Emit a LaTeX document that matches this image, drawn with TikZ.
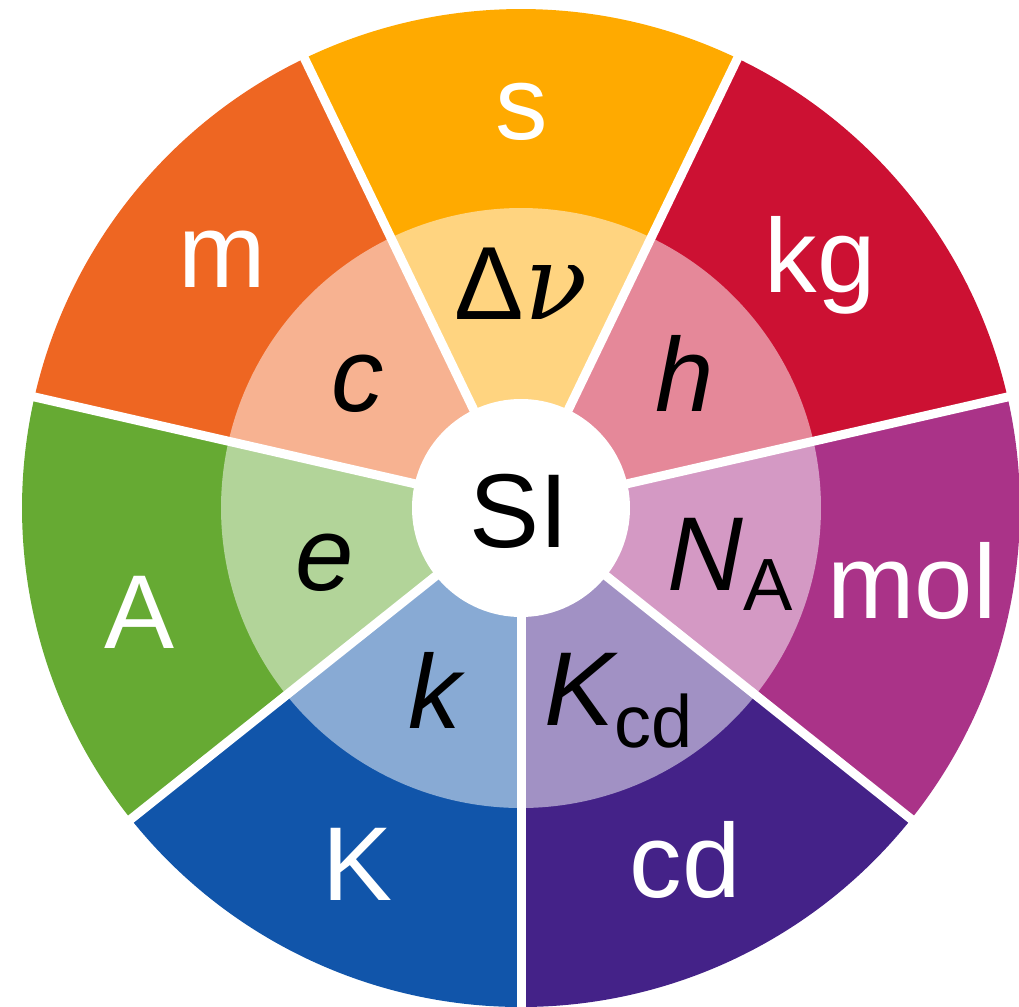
\documentclass[tikz,border=0pt]{standalone}
\usepackage{fontspec}
\setmainfont{Liberation Sans}
\newfontfamily\nufont{DejaVu Serif}
\usepackage{tikz}
\usetikzlibrary{calc}
% sector colours (the light ring is mixed with white)
\definecolor{colcd}{HTML}{442288}
\definecolor{colmol}{HTML}{AA3388}
\definecolor{colkg}{HTML}{CC1133}
\definecolor{cols}{HTML}{FFAA00}
\definecolor{colm}{HTML}{EE6622}
\definecolor{colA}{HTML}{66AA33}
\definecolor{colK}{HTML}{1155AA}
\tikzset{
	unit/.style={text=white, font=\fontsize{105}{105}\selectfont, anchor=base, inner sep=0pt},
	const/.style={text=black, font=\fontsize{105}{105}\selectfont\itshape, anchor=base, inner sep=0pt},
	gap/.style={draw=white, line width=9pt}
}
\newcommand{\sub}[2]{\raisebox{-#1pt}{\fontsize{74}{74}\selectfont\upshape #2}}

\begin{document}
\begin{tikzpicture}[x=1pt,y=1pt]
	\useasboundingbox (-521,-498) rectangle (498,508);
	\clip (-521,-498) rectangle (498,508);
	% Sectors, dark outside and light inside
	\foreach \u [count=\i from 0] in {cd,mol,kg,s,m,A,K} {
		\pgfmathsetmacro\a{-90+\i*360/7}
		\pgfmathsetmacro\b{-90+(\i+1)*360/7}
		\fill[col\u] (0,0) -- (\a:499) arc[start angle=\a, end angle=\b, radius=499] -- cycle;
		\fill[col\u!50!white] (0,0) -- (\a:300) arc[start angle=\a, end angle=\b, radius=300] -- cycle;
	}
	% White gaps
	\foreach \i in {0,...,6}
	\draw[gap] (0,0) -- ({-90+\i*360/7}:520);
	\fill[white] (0,0) circle[radius=109];
	% Units
	\node[unit] (u-s) at (1,368) {s};
	\node[unit] (u-kg) at (299,215) {kg};
	\node[unit] (u-mol) at (391,-110) {mol};
	\node[unit] (u-cd) at (164,-389) {cd};
	\node[unit] (u-K) at (-163,-392) {K};
	\node[unit] (u-A) at (-381,-140) {A};
	\node[unit] (u-m) at (-299,220) {m};
	% Constants
	\node[const, font=\fontsize{104}{104}\selectfont] (c-nu) at (0,188) {Δ{\nufont\itshape ν}};
	\node[const] (c-h) at (164,96) {h};
	\node[const] (c-NA) at (209,-82) {N\sub{20}{A}};
	\node[const] (c-Kcd) at (98,-217) {K\sub{22}{cd}};
	\node[const] (c-k) at (-86,-220) {k};
	\node[const] (c-e) at (-196,-82) {e};
	\node[const] (c-c) at (-163,96) {c};
	% Centre
	\node[const, font=\fontsize{105}{105}\selectfont] (si) at (-2,-39) {SI};
\end{tikzpicture}
\end{document}
